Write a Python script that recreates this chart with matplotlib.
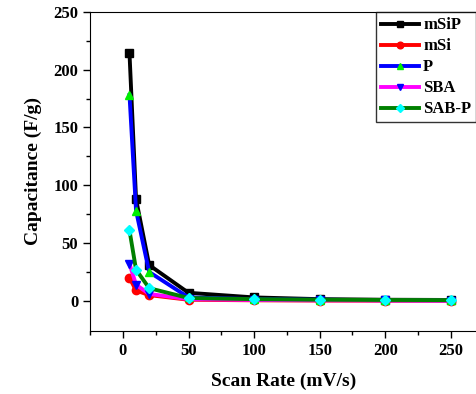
import matplotlib.pyplot as plt

plt.rcParams["font.family"] = "Liberation Serif"
plt.rcParams["font.weight"] = "bold"

scan_rate = [5, 10, 20, 50, 100, 150, 200, 250]
msip = [214, 88, 31, 7, 3, 1.5, 1, 0.8]
msi = [20, 9, 5, 1, 0.5, 0.3, 0.2, 0.2]
p = [178, 78, 25, 3, 1.5, 1, 0.6, 0.5]
sba = [32, 14, 6, 1.5, 0.8, 0.5, 0.4, 0.3]
sabp = [61, 27, 11, 2.5, 1.5, 1, 0.8, 0.7]

series = [
    ("mSiP", msip, "black", "black", "s"),
    ("mSi", msi, "red", "red", "o"),
    ("P", p, "blue", "#00ee00", "^"),
    ("SBA", sba, "magenta", "blue", "v"),
    ("SAB-P", sabp, "green", "cyan", "D"),
]

fig = plt.figure(figsize=(4.77, 3.94), dpi=100)
ax = fig.add_axes([0.189, 0.16, 0.811, 0.81])

for label, vals, lc, mc, mk in series:
    ax.plot(
        scan_rate, vals, color=lc, lw=2.8, marker=mk, ms=6 if mk != "D" else 5,
        markerfacecolor=mc, markeredgecolor=mc, label=label,
    )

ax.set_xlim(-25, 270)
ax.set_ylim(-26, 250)
ax.set_xticks([0, 50, 100, 150, 200, 250])
ax.set_xticks([-25, 25, 75, 125, 175, 225], minor=True)
ax.set_yticks([0, 50, 100, 150, 200, 250])
ax.set_yticks([25, 75, 125, 175, 225], minor=True)
ax.spines["right"].set_visible(False)
ax.tick_params(which="major", direction="out", length=5, width=1, labelsize=12)
ax.tick_params(which="minor", direction="out", length=3, width=1)
for t in ax.get_xticklabels() + ax.get_yticklabels():
    t.set_fontweight("bold")

ax.set_xlabel("Scan Rate (mV/s)", fontsize=14, fontweight="bold", labelpad=10)
ax.set_ylabel("Capacitance (F/g)", fontsize=14, fontweight="bold", labelpad=8)

leg = ax.legend(
    loc="upper right", bbox_to_anchor=(0.998, 0.998), fontsize=12, frameon=True,
    fancybox=False, edgecolor="black", handlelength=2.3, borderpad=0.3,
    labelspacing=0.3, handletextpad=0.25, borderaxespad=0.0, markerscale=0.8,
)
leg.get_frame().set_linewidth(1)
for t in leg.get_texts():
    t.set_fontweight("bold")

fig.savefig("out.png", dpi=100, facecolor="white")
